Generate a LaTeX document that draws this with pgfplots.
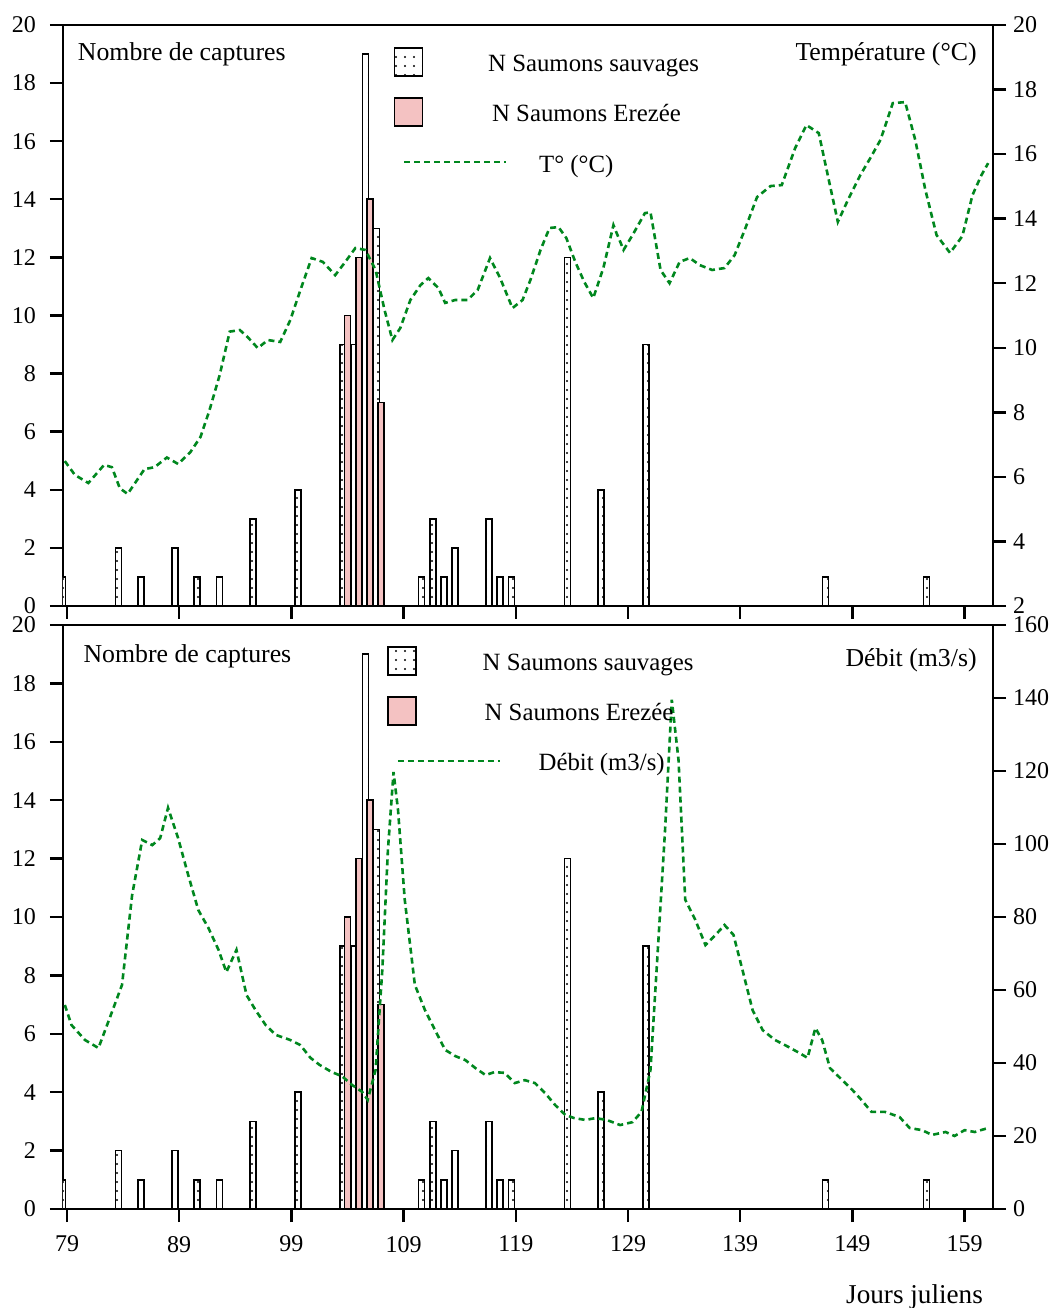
\documentclass[border=0pt]{standalone}
\usepackage{pgfplots}
\pgfplotsset{compat=1.18}
\usepackage{fontspec}
\setmainfont{Liberation Serif}
\usetikzlibrary{patterns,patterns.meta}

\definecolor{pinkbar}{RGB}{244,194,194}
\definecolor{tgreen}{RGB}{0,135,30}

\tikzset{
  wild/.style={draw=black, line width=0.8pt, fill=white,
    postaction={pattern={Dots[distance=4.5pt, radius=0.6pt]}}},
  erez/.style={draw=black, line width=0.8pt, fill=pinkbar},
  tline/.style={tgreen, line width=1.3pt, dash pattern=on 3pt off 2pt},
}

\pgfplotsset{
  panel/.style={
    scale only axis, width=465pt,
    xmin=78.64, xmax=161.53,
    xtick={79,89,...,159},
    tick align=outside, major tick length=6.5pt,
    axis line style={line width=1.2pt},
    tick style={black, line width=1.2pt},
    /pgf/number format/assume math mode=true,
    tick label style={font=\fontsize{12}{14}\selectfont},
    xticklabel style={yshift=-3.5pt},
  },
  leftax/.style={yticklabel style={xshift=-3.5pt}},
  sqwild/.style={legend image code/.code={\draw[wild] (0pt,-5.5pt) rectangle (14pt,8.5pt);}},
  sqerez/.style={legend image code/.code={\draw[erez] (0pt,-5.5pt) rectangle (14pt,8.5pt);}},
  tlegend/.style={legend image code/.code={\path[draw=none, fill=none] (0pt,-6pt) rectangle (14pt,9pt);
      \draw[tline, overlay] (5pt,1.5pt) -- (56pt,1.5pt);}},
  leg/.style={legend style={draw=none, fill=none, inner sep=0pt,
    at={(rel axis cs:#1)}, anchor=north west,
    row sep=9pt, column sep=30.5pt,
    font=\fontsize{12.4}{14}\selectfont}, legend cell align=left},
}

\newcommand\ttl{\fontsize{12.9}{15}\selectfont}

\pgfplotstableread{
day n
79 1
84 2
86 1
89 2
91 1
93 1
96 3
100 4
104 9
105 9
106 19
107 13
111 1
112 3
113 1
114 2
117 3
118 1
119 1
124 12
127 4
131 9
147 1
156 1
}\wildtab

\pgfplotstableread{
day n
104 10
105 12
106 14
107 7
}\ereztab

\begin{document}
\begin{tikzpicture}
\useasboundingbox (-31.5pt,-49.5pt) rectangle (496.5pt,604.5pt);

% ---- top panel: captures + temperature
\begin{axis}[panel, leftax, at={(0,301.5pt)}, height=290.5pt,
  ymin=0, ymax=20, ytick={0,2,...,20},
  xticklabels={}, xtick pos=bottom, ytick pos=left,
  ybar, bar width=3pt]
\addplot[wild, bar shift=-2.25pt] table[x=day,y=n] {\wildtab};
\addplot[erez, bar shift=0pt] table[x=day,y=n] {\ereztab};
\node[anchor=west, font=\ttl] at (rel axis cs:0.0085,0.95) {Nombre de captures};
\end{axis}

\begin{axis}[panel, at={(0,301.5pt)}, height=290.5pt,
  ymin=2, ymax=20, ytick={2,4,...,20},
  axis y line*=right, axis x line=none, leg={0.355,0.962}]
\addlegendimage{sqwild}
\addlegendentry{N Saumons sauvages}
\addlegendimage{sqerez}
\addlegendentry{\hspace{2pt}N Saumons Erezée}
\addplot[tline, tlegend] coordinates {
(78.8,6.49)(79.7,6.06)(80.9,5.81)(82.3,6.37)(83.0,6.3)(83.7,5.65)(84.4,5.47)
(85.9,6.24)(86.8,6.3)(87.9,6.6)(88.9,6.4)(90.0,6.77)(90.9,7.24)(91.7,8.07)
(92.6,9.15)(93.5,10.5)(94.4,10.55)(95.1,10.33)(96.0,9.99)(96.9,10.24)(98.0,10.18)
(98.9,10.86)(99.8,11.79)(100.8,12.78)(101.8,12.66)(102.9,12.25)(103.8,12.66)
(104.7,13.09)(105.6,13.03)(106.5,12.41)(107.3,11.17)(108.0,10.24)(108.7,10.61)
(109.6,11.48)(110.5,11.94)(111.2,12.16)(112.1,11.85)(112.7,11.39)(113.6,11.48)
(114.7,11.48)(115.6,11.79)(116.7,12.78)(117.6,12.16)(118.7,11.23)(119.6,11.48)
(120.3,12.1)(121.2,13.03)(122.0,13.71)(122.8,13.74)(123.5,13.4)(124.3,12.66)
(125.1,12.04)(125.9,11.54)(126.8,12.47)(127.7,13.8)(128.6,13.03)(129.4,13.49)
(130.5,14.17)(131.0,14.2)(131.9,12.41)(132.7,12.0)(133.6,12.66)(134.5,12.78)
(135.4,12.56)(136.5,12.41)(137.6,12.47)(138.5,12.87)(139.4,13.65)(140.5,14.67)
(141.7,15.01)(142.7,15.04)(143.9,16.19)(144.9,16.9)(146.0,16.65)(146.8,15.35)
(147.7,13.9)(148.6,14.58)(149.7,15.35)(150.6,15.88)(151.5,16.44)(152.6,17.58)
(153.7,17.61)(154.6,16.44)(155.5,14.89)(156.5,13.49)(157.7,12.94)(158.8,13.46)
(159.7,14.73)(160.5,15.35)(161.1,15.72)
};
\addlegendentry{\hspace{25.5pt}T° (°C)}
\node[anchor=east, font=\ttl] at (rel axis cs:0.99,0.95) {Température (°C)};
\end{axis}

% ---- bottom panel: captures + discharge
\begin{axis}[panel, leftax, at={(0,0)}, height=292pt,
  ymin=0, ymax=20, ytick={0,2,...,20},
  xtick pos=bottom, ytick pos=left,
  xlabel={Jours juliens},
  xlabel style={at={(rel axis cs:1,0)}, anchor=north east, yshift=-34.5pt, xshift=-1.5pt,
    font=\fontsize{13.6}{15}\selectfont},
  ybar, bar width=3pt]
\addplot[wild, bar shift=-2.25pt] table[x=day,y=n] {\wildtab};
\addplot[erez, bar shift=0pt] table[x=day,y=n] {\ereztab};
\node[anchor=west, font=\ttl] at (rel axis cs:0.0145,0.946) {Nombre de captures};
\end{axis}

\begin{axis}[panel, at={(0,0)}, height=292pt,
  ymin=0, ymax=160, ytick={0,20,...,160},
  axis y line*=right, axis x line=none, leg={0.348,0.964},
  legend style={column sep=31pt}]
\addlegendimage{sqwild}
\addlegendentry{N Saumons sauvages}
\addlegendimage{sqerez}
\addlegendentry{\hspace{1pt}N Saumons Erezée}
\addplot[tline, tlegend] coordinates {
(78.8,55.9)(79.4,50.4)(80.6,46.3)(81.8,44.1)(82.8,52.3)(83.9,61.4)(84.8,86)
(85.7,101.1)(86.6,99.7)(87.3,101.6)(88.0,109.9)(88.9,101.6)(89.8,91.5)(90.7,81.9)
(91.6,77)(92.5,71)(93.2,64.9)(94.1,71)(95.0,58.6)(95.8,54.5)(96.7,50.4)(97.6,47.7)
(98.9,46.3)(99.8,44.9)(100.7,41.4)(101.5,39.5)(102.6,37.5)(103.5,36.4)(104.4,34)
(105.3,32.1)(105.8,29.9)(106.5,38.1)(107.1,65.5)(107.6,98.4)(108.1,119.7)
(108.5,109.3)(109.1,84.7)(110.0,61.4)(110.9,54.5)(111.8,49)(112.7,43.6)(113.6,41.9)
(114.5,40.8)(115.4,38.6)(116.3,36.7)(117.1,37.5)(118.0,37.3)(118.9,34.5)(119.8,35.3)
(120.7,34.5)(121.6,31.8)(122.5,28.5)(123.4,25.8)(124.2,24.9)(125.2,24.4)(126.1,24.9)
(127.1,24.4)(128.3,23)(129.4,23.8)(130.2,26.6)(131.0,38.1)(131.6,68.2)(132.3,103.8)
(132.9,139.5)(133.5,123)(134.1,84.7)(135.0,79.2)(135.9,72.3)(136.8,75.1)(137.6,77.8)
(138.4,75.1)(139.2,65.5)(140.1,54.5)(141.0,49)(142.1,46.3)(143.3,44.4)(144.3,42.7)
(145.0,41.4)(145.7,49.6)(146.3,46.3)(147.0,38.6)(147.9,35.9)(149.0,32.6)(149.8,29.9)
(150.7,26.6)(151.9,26.6)(153.2,25.2)(154.1,22.2)(155.2,21.6)(156.1,20.3)(157.3,21.1)
(158.1,20)(159.0,21.6)(159.9,21.1)(161.1,22.2)
};
\addlegendentry{\hspace{28pt}Débit (m3/s)}
\node[anchor=east, font=\ttl] at (rel axis cs:0.99,0.94) {Débit (m3/s)};
\end{axis}
\end{tikzpicture}
\end{document}
